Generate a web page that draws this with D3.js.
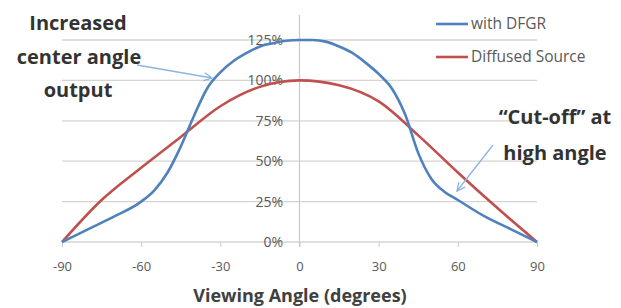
<!DOCTYPE html>
<html>
<head>
<meta charset="utf-8">
<script src="https://cdn.jsdelivr.net/npm/d3@7"></script>
<style>
  body { margin: 0; background: #fff; }
  svg { display: block; }
</style>
</head>
<body>
<script>
// data
var angles = [-90, -80, -70, -60, -55, -50, -45, -40, -35, -30, -25, -20, -15, -10, -5, 0, 5, 10, 15, 20, 25, 30, 35, 40, 45, 50, 55, 60, 70, 80, 90];
var dfgr = [0, 8, 16, 25, 32, 43, 59, 78, 95, 105, 112, 117, 121, 123, 124.5, 125, 125, 124, 121, 117, 111, 104, 95, 79, 55, 39, 31, 26, 16, 8, 0];
var diffAngles = [-90, -75, -60, -45, -30, -15, 0, 15, 30, 45, 60, 75, 90];
var diffused = [0, 26, 46, 65, 84, 96, 100, 97, 87, 66, 43, 21, 0];
var xTicks = [-90, -60, -30, 0, 30, 60, 90];
var yTicks = [0, 25, 50, 75, 100, 125];
var seriesNames = ["with DFGR", "Diffused Source"];
var colors = ["#4f81bd", "#c0504d"];

var W = 621, H = 308;
var svg = d3.select("body").append("svg")
    .attr("width", W)
    .attr("height", H)
    .style("font-family", "'Open Sans', sans-serif");

// scales
var x = d3.scaleLinear().domain([-90, 90]).range([62, 537]);
var y = d3.scaleLinear().domain([0, 125]).range([242, 40]);

// gridlines
svg.append("g")
    .selectAll("line")
    .data(yTicks)
    .enter().append("line")
    .attr("x1", x(-90)).attr("x2", x(90))
    .attr("y1", function (d) { return y(d); })
    .attr("y2", function (d) { return y(d); })
    .attr("stroke", "#d4d4d4")
    .attr("stroke-width", 1.3);

// vertical axis at 0
svg.append("line")
    .attr("x1", x(0)).attr("x2", x(0))
    .attr("y1", 15).attr("y2", y(0) + 5)
    .attr("stroke", "#c8c8c8")
    .attr("stroke-width", 1.2);

// y labels
svg.append("g")
    .selectAll("text")
    .data(yTicks)
    .enter().append("text")
    .attr("x", 283)
    .attr("y", function (d) { return y(d); })
    .attr("dy", "0.35em")
    .attr("text-anchor", "end")
    .attr("font-size", 14)
    .attr("fill", "#595959")
    .text(function (d) { return d + "%"; });

// x axis
var xAxis = d3.axisBottom(x).tickValues(xTicks).tickSize(5).tickPadding(15)
    .tickFormat(function (d) { return String(d); });
var gx = svg.append("g")
    .attr("transform", "translate(0," + y(0) + ")")
    .call(xAxis);
gx.select(".domain").remove();
gx.selectAll("line").attr("stroke", "#c8c8c8");
gx.selectAll("text")
    .attr("font-size", 13)
    .attr("fill", "#595959")
    .style("font-family", "'Open Sans', sans-serif");

// axis title
svg.append("text")
    .attr("x", 300)
    .attr("y", 302)
    .attr("text-anchor", "middle")
    .attr("font-size", 18)
    .attr("font-weight", "bold")
    .attr("fill", "#404040")
    .text("Viewing Angle (degrees)");

// lines
var line = d3.line()
    .x(function (d) { return x(d[0]); })
    .y(function (d) { return y(d[1]); })
    .curve(d3.curveMonotoneX);

svg.append("path")
    .datum(diffAngles.map(function (a, i) { return [a, diffused[i]]; }))
    .attr("d", line)
    .attr("fill", "none")
    .attr("stroke", colors[1])
    .attr("stroke-width", 2.6);

svg.append("path")
    .datum(angles.map(function (a, i) { return [a, dfgr[i]]; }))
    .attr("d", line)
    .attr("fill", "none")
    .attr("stroke", colors[0])
    .attr("stroke-width", 2.6);

// legend
var legend = svg.append("g")
    .selectAll("g")
    .data(seriesNames)
    .enter().append("g")
    .attr("transform", function (d, i) { return "translate(436," + (24 + i * 33) + ")"; });
legend.append("line")
    .attr("x1", 0).attr("x2", 32)
    .attr("stroke", function (d, i) { return colors[i]; })
    .attr("stroke-width", 2.6);
legend.append("text")
    .attr("x", 35)
    .attr("dy", "0.35em")
    .attr("font-size", 15.5)
    .attr("fill", "#595959")
    .text(function (d) { return d; });

// annotations
var note = svg.append("g")
    .attr("font-size", 20)
    .attr("font-weight", "bold")
    .attr("fill", "#333")
    .attr("text-anchor", "middle");
note.append("text").attr("x", 78).attr("y", 30).text("Increased");
note.append("text").attr("x", 79).attr("y", 64).text("center angle");
note.append("text").attr("x", 78).attr("y", 97).text("output");
note.append("text").attr("x", 555).attr("y", 124).text("\u201cCut-off\u201d at");
note.append("text").attr("x", 555).attr("y", 160).text("high angle");

svg.append("defs").append("marker")
    .attr("id", "arr")
    .attr("viewBox", "0 0 10 10")
    .attr("refX", 9).attr("refY", 5)
    .attr("markerWidth", 10).attr("markerHeight", 10)
    .attr("markerUnits", "userSpaceOnUse")
    .attr("orient", "auto")
    .append("path")
    .attr("d", "M1,1 L9,5 L1,9")
    .attr("fill", "none")
    .attr("stroke", "#8db4e2")
    .attr("stroke-width", 1.3);

svg.append("line")
    .attr("x1", 137).attr("y1", 65).attr("x2", 212).attr("y2", 78)
    .attr("stroke", "#8db4e2").attr("stroke-width", 1.3)
    .attr("marker-end", "url(#arr)");
svg.append("line")
    .attr("x1", 493).attr("y1", 145).attr("x2", 457).attr("y2", 191)
    .attr("stroke", "#8db4e2").attr("stroke-width", 1.3)
    .attr("marker-end", "url(#arr)");
</script>
</body>
</html>
